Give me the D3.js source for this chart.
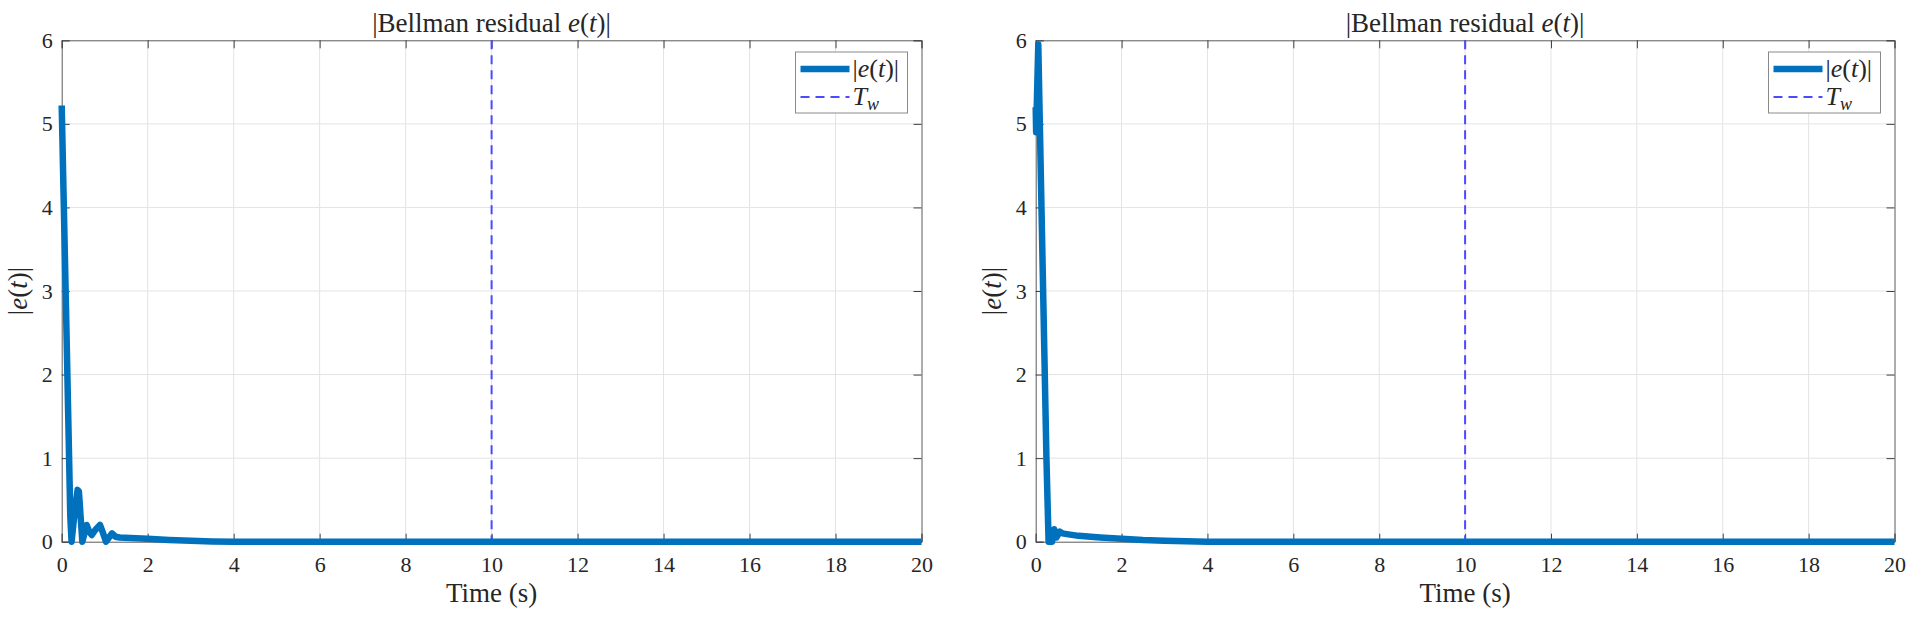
<!DOCTYPE html>
<html>
<head>
<meta charset="utf-8">
<script src="https://cdn.jsdelivr.net/npm/d3@7"></script>
<style>
  body { margin: 0; background: #fff; }
  svg text { font-family: "Liberation Serif", "DejaVu Serif", serif; fill: #262626; }
  .grid line { stroke: #e3e3e3; stroke-width: 1; }
</style>
</head>
<body>
<div id="chart"></div>
<script>
/* values */
var timeA = [0, 0.05, 0.1, 0.15, 0.2, 0.23, 0.3, 0.37, 0.4, 0.44, 0.48, 0.52, 0.58, 0.64, 0.7, 0.78, 0.89, 0.95, 1.03, 1.1, 1.17, 1.25, 1.35, 1.6, 2, 2.5, 3, 3.5, 4, 6, 10, 15, 20];
var residualA = [5.22, 4.0, 2.8, 1.55, 0.3, 0.0, 0.35, 0.62, 0.6, 0.3, 0.0, 0.08, 0.2, 0.12, 0.08, 0.14, 0.2, 0.12, 0.0, 0.05, 0.1, 0.06, 0.05, 0.045, 0.035, 0.02, 0.01, 0.003, 0, 0, 0, 0, 0];

var timeB = [0, 0.01, 0.06, 0.1, 0.15, 0.2, 0.25, 0.3, 0.38, 0.43, 0.48, 0.56, 0.62, 0.8, 1, 1.5, 2, 2.5, 3, 3.5, 4, 6, 10, 15, 20];
var residualB = [5.2, 4.9, 5.95, 4.9, 3.6, 2.3, 1.0, 0.0, 0.0, 0.15, 0.05, 0.12, 0.1, 0.085, 0.07, 0.05, 0.035, 0.02, 0.012, 0.005, 0, 0, 0, 0, 0];

var xTicks = [0, 2, 4, 6, 8, 10, 12, 14, 16, 18, 20];
var yTicks = [0, 1, 2, 3, 4, 5, 6];
var Tw = 10;

var W = 1915, H = 617;

var svg = d3.select("#chart").append("svg").attr("width", W).attr("height", H);

function mathLabel(sel, parts) {
	parts.forEach(function (p) {
		var t = sel.append("tspan").text(p[0]);
		if (p[1]) t.style("font-style", "italic");
	});
}

function drawPanel(opts) {
	var g = svg.append("g");
	var x = d3.scaleLinear().domain([0, 20]).range([opts.left, opts.right]);
	var y = d3.scaleLinear().domain([0, 6]).range([opts.bottom, opts.top]);

	/* grid */
	var grid = g.append("g").attr("class", "grid");
	grid.selectAll("line.gx").data(xTicks.slice(1, -1)).enter().append("line")
		.attr("x1", d => x(d)).attr("x2", d => x(d))
		.attr("y1", opts.top).attr("y2", opts.bottom);
	grid.selectAll("line.gy").data(yTicks.slice(1, -1)).enter().append("line")
		.attr("x1", opts.left).attr("x2", opts.right)
		.attr("y1", d => y(d)).attr("y2", d => y(d));

	/* axes, ticks inside like matlab */
	var tl = 8;
	var fmt = d3.format("d");
	var xAxis = d3.axisBottom(x).tickValues(xTicks).tickSize(-tl).tickPadding(15).tickFormat(fmt);
	var yAxis = d3.axisLeft(y).tickValues(yTicks).tickSize(-tl).tickPadding(9).tickFormat(fmt);

	var gx = g.append("g").attr("transform", "translate(0," + opts.bottom + ")").call(xAxis);
	var gy = g.append("g").attr("transform", "translate(" + opts.left + ",0)").call(yAxis);
	var gxt = g.append("g").attr("transform", "translate(0," + opts.top + ")")
		.call(d3.axisTop(x).tickValues(xTicks).tickSize(-tl).tickFormat(""));
	var gyr = g.append("g").attr("transform", "translate(" + opts.right + ",0)")
		.call(d3.axisRight(y).tickValues(yTicks).tickSize(-tl).tickFormat(""));

	[gx, gy, gxt, gyr].forEach(function (a) {
		a.select(".domain").attr("stroke", "#5a5a5a").attr("stroke-width", 1);
		a.selectAll(".tick line").attr("stroke", "#404040");
		a.selectAll(".tick text").style("font-size", "22px").attr("fill", "#262626")
			.style("font-family", "'Liberation Serif', serif");
	});

	/* Tw line */
	g.append("line")
		.attr("x1", x(Tw)).attr("x2", x(Tw))
		.attr("y1", y(6)).attr("y2", y(0))
		.attr("stroke", "#4a4aff").attr("stroke-width", 2)
		.attr("stroke-dasharray", "9,6");

	/* residual */
	var pts = opts.t.map((d, i) => [d, opts.v[i]]);
	var line = d3.line().x(d => x(d[0])).y(d => y(d[1]));
	g.append("path").datum(pts)
		.attr("d", line)
		.attr("fill", "none")
		.attr("stroke", "#0072BD")
		.attr("stroke-width", 6.5)
		.attr("stroke-linejoin", "round")
		.attr("stroke-linecap", "butt");

	/* title */
	var title = g.append("text")
		.attr("x", (opts.left + opts.right) / 2).attr("y", 32)
		.attr("text-anchor", "middle").style("font-size", "27px");
	mathLabel(title, [["|Bellman residual "], ["e", true], ["("], ["t", true], [")|"]]);

	/* x label */
	g.append("text")
		.attr("x", (opts.left + opts.right) / 2).attr("y", 602)
		.attr("text-anchor", "middle").style("font-size", "27px")
		.text("Time (s)");

	/* y label */
	var ylg = g.append("g")
		.attr("transform", "translate(" + (opts.left - 35) + "," + ((opts.top + opts.bottom) / 2) + ") rotate(-90)");
	var yl = ylg.append("text").attr("x", 0).attr("y", 0)
		.attr("text-anchor", "middle").style("font-size", "27px");
	mathLabel(yl, [["|"], ["e", true], ["("], ["t", true], [")|"]]);

	/* legend */
	var lx = opts.right - 126, ly = 52;
	var lg = g.append("g").attr("transform", "translate(" + lx + "," + ly + ")");
	lg.append("rect").attr("width", 112).attr("height", 61)
		.attr("fill", "#fff").attr("stroke", "#8a8a8a").attr("stroke-width", 1);
	lg.append("line").attr("x1", 5).attr("x2", 54).attr("y1", 17).attr("y2", 17)
		.attr("stroke", "#0072BD").attr("stroke-width", 6.5);
	lg.append("line").attr("x1", 5).attr("x2", 54).attr("y1", 45).attr("y2", 45)
		.attr("stroke", "#4a4aff").attr("stroke-width", 2).attr("stroke-dasharray", "9,6");
	var l1 = lg.append("text").attr("x", 57).attr("y", 25).style("font-size", "26px");
	mathLabel(l1, [["|"], ["e", true], ["("], ["t", true], [")|"]]);
	var l2 = lg.append("text").attr("x", 57).attr("y", 53).style("font-size", "26px");
	l2.append("tspan").style("font-style", "italic").text("T");
	l2.append("tspan").style("font-style", "italic").style("font-size", "18px").attr("dy", 5).text("w");
}

drawPanel({ left: 61.7, right: 921.5, top: 40.3, bottom: 541.7, t: timeA, v: residualA });
drawPanel({ left: 1035.7, right: 1894.5, top: 40.3, bottom: 541.7, t: timeB, v: residualB });
</script>
</body>
</html>
